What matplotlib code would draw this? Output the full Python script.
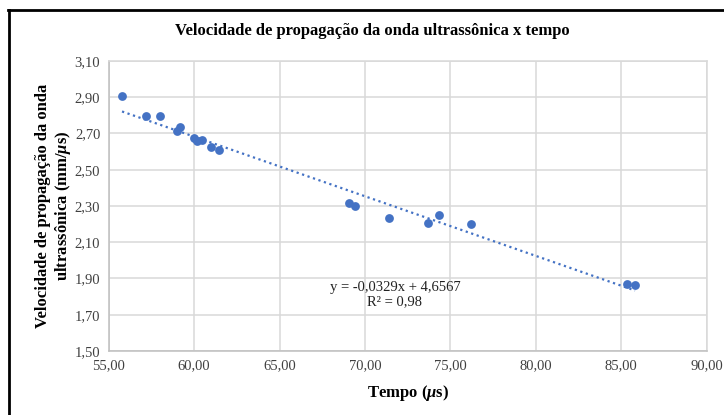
import matplotlib
matplotlib.use("Agg")
import matplotlib.pyplot as plt
import numpy as np
from matplotlib.lines import Line2D

plt.rcParams['font.family'] = ['Liberation Serif', 'DejaVu Serif']
plt.rcParams['mathtext.fontset'] = 'custom'
plt.rcParams['mathtext.it'] = 'Liberation Serif:italic'
plt.rcParams['mathtext.rm'] = 'Liberation Serif'
plt.rcParams['mathtext.bf'] = 'Liberation Serif:bold'
plt.rcParams['mathtext.bfit'] = 'Liberation Serif:bold:italic'

# Data
tempo = [55.78, 57.18, 58.00, 58.98, 59.17, 59.99, 60.18, 60.46, 60.97, 61.45,
         69.08, 69.39, 71.38, 73.68, 74.34, 76.18, 85.31, 85.81]
velocidade = [2.907, 2.798, 2.795, 2.715, 2.736, 2.673, 2.660, 2.666, 2.626, 2.609,
              2.317, 2.298, 2.232, 2.206, 2.250, 2.199, 1.870, 1.863]
slope, intercept = -0.0329, 4.6567
eq_text = "y = -0,0329x + 4,6567\nR² = 0,98"
x_ticks = [55, 60, 65, 70, 75, 80, 85, 90]
y_ticks = [1.50, 1.70, 1.90, 2.10, 2.30, 2.50, 2.70, 2.90, 3.10]

title = "Velocidade de propagação da onda ultrassônica x tempo"
xlabel = "Tempo ($\\mathbfit{\\mu}$s)"
ylabel = "Velocidade de propagação da onda\nultrassônica (mm/$\\mathbfit{\\mu}$s)"

blue = "#4472C4"
grid_c = "#D9D9D9"
tick_c = "#404040"

fig = plt.figure(figsize=(7.24, 4.15), dpi=100)
ax = fig.add_axes([108.7/724, 1-351/415, (706.7-108.7)/724, (351-61)/415])

ax.scatter(tempo, velocidade, s=40, color=blue, zorder=3, linewidths=0)
xs = np.array([min(tempo), max(tempo)])
ax.plot(xs, slope*xs + intercept, linestyle=(0, (1, 1.6)), color=blue, lw=1.6, zorder=2)

ax.set_xlim(55, 90)
ax.set_ylim(1.50, 3.10)
ax.set_xticks(x_ticks)
ax.set_yticks(y_ticks)
ax.set_xticklabels([f"{v:.2f}".replace('.', ',') for v in x_ticks])
ax.set_yticklabels([f"{v:.2f}".replace('.', ',') for v in y_ticks])
ax.tick_params(length=0, labelsize=10.5, colors=tick_c, pad=6)
ax.grid(True, color=grid_c, lw=1.1)
ax.set_axisbelow(True)
for s in ax.spines.values():
    s.set_color(grid_c)
    s.set_linewidth(1.1)
ax.spines['left'].set_color('#BFBFBF')
ax.spines['bottom'].set_color('#BFBFBF')

ax.text(71.75, 1.81, eq_text, ha='center', va='center', fontsize=10.5, color='#222222',
        linespacing=1.1)

ax.set_xlabel(xlabel, fontsize=12, fontweight='bold', labelpad=8)
ax.set_ylabel(ylabel, fontsize=12, fontweight='bold', labelpad=1)

fig.text(372/724, 1-31/415, title, ha='center', va='center', fontsize=12, fontweight='bold')

# outer black frame (top and left visible)
fig.add_artist(Line2D([9/724, 9/724], [0, 1-10/415], transform=fig.transFigure, color='black', lw=2))
fig.add_artist(Line2D([8/724, 1], [1-10/415, 1-10/415], transform=fig.transFigure, color='black', lw=2))

fig.savefig("out.png", dpi=100)
